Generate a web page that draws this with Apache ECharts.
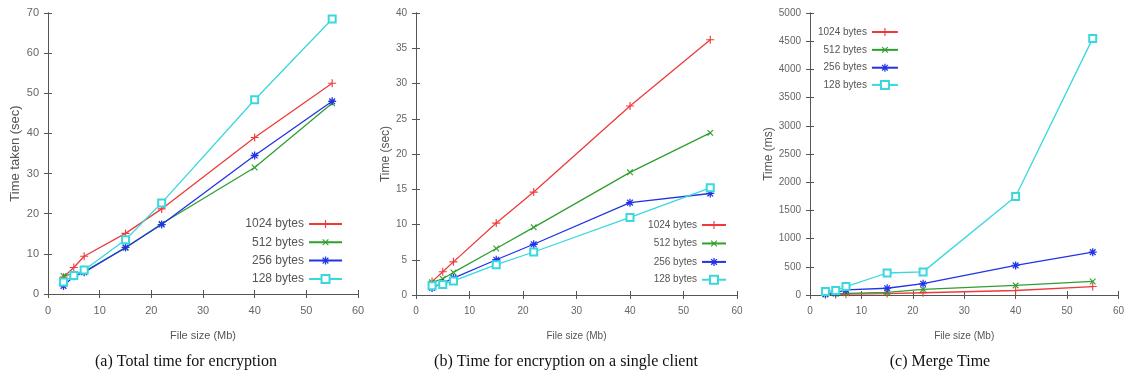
<!DOCTYPE html>
<html>
<head>
<meta charset="utf-8">
<script src="https://cdn.jsdelivr.net/npm/echarts@6/dist/echarts.min.js"></script>
<style>
html, body { margin: 0; padding: 0; background: #fff; }
#chart { width: 1127px; height: 390px; }
</style>
</head>
<body>
<div id="chart"></div>
<script>
const fileSizes = [3, 5, 7, 15, 22, 40, 55];
const seriesNames = ['1024 bytes', '512 bytes', '256 bytes', '128 bytes'];
const xTicks = [0, 60, 10];

// (a) total time for encryption (sec)
const total1024 = [4.2, 6.6, 9.4, 15.1, 21.2, 39.0, 52.5];
const total512 = [4.5, 5.0, 5.6, 11.5, 17.5, 31.5, 47.5];
const total256 = [2.0, 4.4, 5.4, 11.6, 17.3, 34.5, 48.0];
const total128 = [3.0, 4.6, 6.0, 13.5, 22.7, 48.4, 68.5];

// (b) encryption on a single client (sec)
const client1024 = [1.9, 3.3, 4.7, 10.2, 14.6, 26.8, 36.2];
const client512 = [1.8, 2.3, 3.2, 6.6, 9.6, 17.4, 23.0];
const client256 = [1.0, 1.7, 2.4, 5.0, 7.2, 13.1, 14.4];
const client128 = [1.3, 1.5, 2.0, 4.3, 6.1, 11.0, 15.2];

// (c) merge time (ms)
const merge1024 = [5, 10, 15, 25, 40, 80, 150];
const merge512 = [10, 20, 30, 45, 100, 170, 240];
const merge256 = [20, 40, 90, 120, 200, 525, 760];
const merge128 = [60, 80, 150, 390, 410, 1745, 4550];

const colors = ['#ee3a3a', '#2f9f2f', '#2233e6', '#38d8de'];
const plusPath = 'path://M4.3,0H5.7V4.3H10V5.7H5.7V10H4.3V5.7H0V4.3H4.3Z';
const starPath = 'path://M4.2,0H5.8V3.1L8.0,0.9L9.1,2.0L6.9,4.2H10V5.8H6.9L9.1,8.0L8.0,9.1L5.8,6.9V10H4.2V6.9L2.0,9.1L0.9,8.0L3.1,5.8H0V4.2H3.1L0.9,2.0L2.0,0.9L4.2,3.1Z';
const symbols = [plusPath, plusPath, starPath, 'emptyRect'];
const rotations = [0, 45, 0, 0];

const tickFont = "'Liberation Sans Narrow', 'Liberation Sans', sans-serif";
const axisColor = '#555';

const grids = [
    { left: 48, top: 13, width: 310, height: 281 },
    { left: 416, top: 13, width: 321, height: 282 },
    { left: 810, top: 13, width: 310, height: 282 }
];

const yRanges = [[0, 70, 10], [0, 40, 5], [0, 5000, 500]];
const yNames = ['Time taken (sec)', 'Time (sec)', 'Time (ms)'];
const yNameGaps = [26, 20, 34];
const fontSizes = [11, 10, 10];
const yNameSizes = [13, 12, 12];

const xAxes = [];
const yAxes = [];
for (let i = 0; i < 3; i++) {
    const common = {
        gridIndex: i,
        type: 'value',
        axisLine: { show: true, lineStyle: { color: axisColor, width: 1 } },
        axisTick: { show: true, inside: true, length: 4, lineStyle: { color: axisColor } },
        splitLine: { show: false }
    };
    xAxes.push(Object.assign({}, common, {
        position: 'bottom',
        min: xTicks[0], max: xTicks[1], interval: xTicks[2],
        name: 'File size (Mb)',
        nameLocation: 'middle',
        nameGap: 36,
        nameTextStyle: { color: '#555', fontSize: fontSizes[i], fontFamily: tickFont },
        axisLabel: { color: '#666', fontSize: fontSizes[i], fontFamily: tickFont, margin: 11 }
    }));
    xAxes.push(Object.assign({}, common, {
        position: 'top',
        min: xTicks[0], max: xTicks[1], interval: xTicks[2],
        axisLabel: { show: false }
    }));
    yAxes.push(Object.assign({}, common, {
        position: 'left',
        min: yRanges[i][0], max: yRanges[i][1], interval: yRanges[i][2],
        name: yNames[i],
        nameLocation: 'middle',
        nameGap: yNameGaps[i],
        nameTextStyle: { color: '#555', fontSize: yNameSizes[i], fontFamily: tickFont },
        axisLabel: {
            color: '#666', fontSize: fontSizes[i], fontFamily: tickFont, margin: 9,
            formatter: function (v) { return String(v); }
        }
    }));
    yAxes.push(Object.assign({}, common, {
        position: 'right',
        min: yRanges[i][0], max: yRanges[i][1], interval: yRanges[i][2],
        axisLabel: { show: false }
    }));
}

const panelData = [
    [total1024, total512, total256, total128],
    [client1024, client512, client256, client128],
    [merge1024, merge512, merge256, merge128]
];

const series = [];
panelData.forEach(function (rows, p) {
    rows.forEach(function (vals, k) {
        series.push({
            name: seriesNames[k],
            type: 'line',
            xAxisIndex: p * 2,
            yAxisIndex: p * 2,
            data: fileSizes.map(function (x, j) { return [x, vals[j]]; }),
            symbol: symbols[k],
            symbolRotate: rotations[k],
            symbolSize: k === 3 ? 7 : 8,
            showAllSymbol: true,
            lineStyle: { color: colors[k], width: 1.3 },
            itemStyle: { color: colors[k], borderColor: colors[k], borderWidth: k === 3 ? 1.3 : 0 },
            emphasis: { disabled: true },
            animation: false
        });
    });
});

const legendBase = {
    data: seriesNames,
    orient: 'vertical',
    align: 'right',
    selectedMode: false,
    padding: 0
};
const legends = [
    Object.assign({}, legendBase, { right: 784, top: 218, itemWidth: 33, itemHeight: 10, itemGap: 6.3,
        textStyle: { color: '#555', fontFamily: tickFont, fontSize: 12 } }),
    Object.assign({}, legendBase, { right: 400, top: 220, itemWidth: 24, itemHeight: 10, itemGap: 7.8,
        textStyle: { color: '#555', fontFamily: tickFont, fontSize: 10 } }),
    Object.assign({}, legendBase, { left: 818, top: 27, itemWidth: 26, itemHeight: 10, itemGap: 7.2,
        textStyle: { color: '#555', fontFamily: tickFont, fontSize: 10 } })
];

const captions = ['(a) Total time for encryption', '(b) Time for encryption on a single client', '(c) Merge Time'];
const captionX = [186, 566, 940];

const chart = echarts.init(document.getElementById('chart'), null, { renderer: 'canvas' });
chart.setOption({
    backgroundColor: '#fff',
    animation: false,
    grid: grids,
    xAxis: xAxes,
    yAxis: yAxes,
    legend: legends,
    series: series,
    graphic: captions.map(function (t, i) {
        return {
            type: 'text',
            x: captionX[i],
            y: 362,
            style: {
                text: t,
                align: 'center',
                verticalAlign: 'middle',
                fontFamily: "'Liberation Serif', 'Times New Roman', serif",
                fontSize: 16,
                fill: '#111'
            }
        };
    })
});
</script>
</body>
</html>
